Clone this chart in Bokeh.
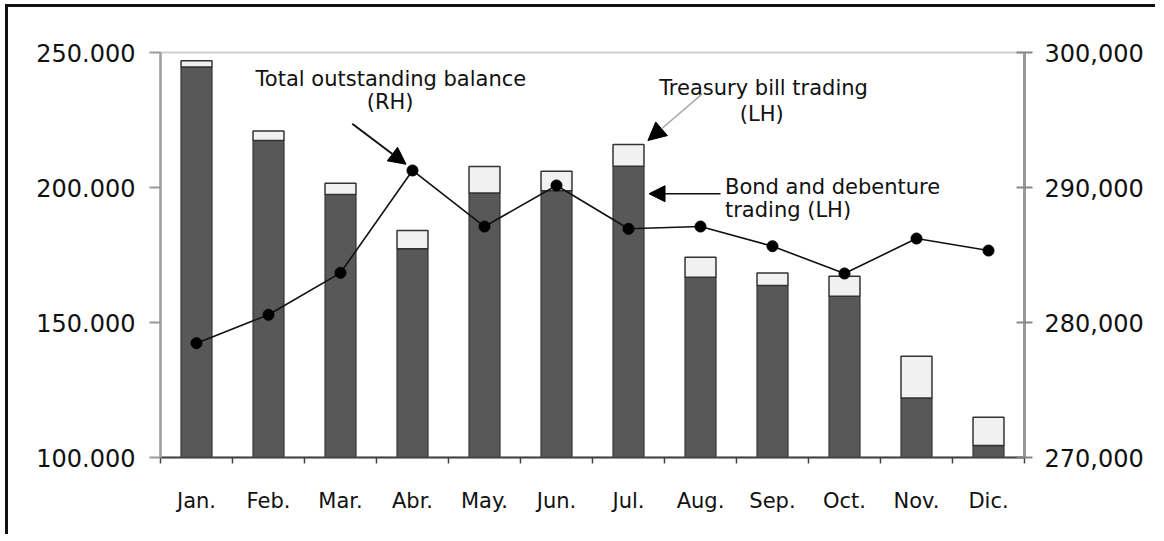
from bokeh.plotting import figure
from bokeh.models import Range1d, LinearAxis, FixedTicker, ColumnDataSource, Label, Arrow, NormalHead
from bokeh.embed import file_html
from bokeh.resources import INLINE

# ---------------- data ----------------
months = ["Jan.", "Feb.", "Mar.", "Abr.", "May.", "Jun.", "Jul.", "Aug.", "Sep.", "Oct.", "Nov.", "Dic."]
bond_trading = [244600, 217400, 197400, 177300, 198000, 198800, 207900, 166800, 163700, 159700, 122000, 104400]
treasury_trading = [2300, 3500, 4200, 6800, 9800, 7200, 8000, 7400, 4600, 7400, 15500, 10500]
total_outstanding = [278470, 280570, 283680, 291260, 287110, 290150, 286940, 287110, 285650, 283630, 286220, 285330]

left_ticks = [100000, 150000, 200000, 250000]
left_tick_labels = ["100.000", "150.000", "200.000", "250.000"]
right_ticks = [270000, 280000, 290000, 300000]
right_tick_labels = ["270,000", "280,000", "290,000", "300,000"]

FONT = "DejaVu Sans"

xpos = [i + 0.5 for i in range(len(months))]
bar_top = [b + t for b, t in zip(bond_trading, treasury_trading)]
src = ColumnDataSource(dict(x=xpos, bond=bond_trading, top=bar_top, total=total_outstanding,
                            base=[0] * len(months)))

p = figure(width=1150, height=530,
           x_range=Range1d(0, len(months)), y_range=Range1d(left_ticks[0], left_ticks[-1]),
           output_backend="svg", toolbar_location=None,
           min_border_left=152, min_border_right=134, min_border_top=45, min_border_bottom=80)
p.extra_y_ranges = {"rh": Range1d(right_ticks[0], right_ticks[-1])}
p.xgrid.visible = False
p.ygrid.visible = False
p.outline_line_color = "#cfcfcf"
p.outline_line_width = 2
p.background_fill_color = "white"
p.border_fill_color = "white"
# outer black frame (left and top edges visible in the picture)
p.styles = {"margin-left": "5px", "margin-top": "4px",
            "border-left": "3px solid #111111", "border-top": "3px solid #111111"}

# bars
p.vbar(x="x", bottom="base", top="bond", width=0.43, source=src,
       fill_color="#585858", line_color="#333333", line_width=1.2)
p.vbar(x="x", bottom="bond", top="top", width=0.43, source=src,
       fill_color="#f1f1f1", line_color="#333333", line_width=1.5)

# line (right axis)
p.line(x="x", y="total", source=src, y_range_name="rh", line_color="#111111", line_width=1.6)
p.scatter(x="x", y="total", source=src, y_range_name="rh", size=11,
          fill_color="#000000", line_color="#000000")

# bottom axis: labels at centres, ticks at category boundaries
xa = p.xaxis[0]
xa.ticker = FixedTicker(ticks=xpos, minor_ticks=list(range(len(months) + 1)))
xa.major_label_overrides = {x: m for x, m in zip(xpos, months)}
xa.major_tick_line_color = None
xa.major_tick_out = 0
xa.major_tick_in = 0
xa.minor_tick_out = 6
xa.minor_tick_in = 0
xa.minor_tick_line_color = "#444444"
xa.minor_tick_line_width = 1.5
xa.axis_line_color = "#444444"
xa.axis_line_width = 2
xa.major_label_text_font = FONT
xa.major_label_text_font_size = "21px"
xa.major_label_text_color = "#111111"
xa.major_label_standoff = 25

# left axis
ya = p.yaxis[0]
ya.ticker = FixedTicker(ticks=left_ticks)
ya.major_label_overrides = dict(zip(left_ticks, left_tick_labels))
ya.minor_tick_line_color = None
ya.major_tick_out = 11
ya.major_tick_in = 0
ya.major_tick_line_color = "#999999"
ya.major_tick_line_width = 2
ya.axis_line_color = "#a0a0a0"
ya.axis_line_width = 2.5
ya.major_label_text_font = FONT
ya.major_label_text_font_size = "24px"
ya.major_label_text_color = "#111111"
ya.major_label_standoff = 14

# right axis
ra = LinearAxis(y_range_name="rh", ticker=FixedTicker(ticks=right_ticks),
                major_label_overrides=dict(zip(right_ticks, right_tick_labels)))
ra.minor_tick_line_color = None
ra.major_tick_out = 8
ra.major_tick_in = 8
ra.major_tick_line_color = "#888888"
ra.major_tick_line_width = 2
ra.axis_line_color = "#999999"
ra.axis_line_width = 3
ra.major_label_text_font = FONT
ra.major_label_text_font_size = "24px"
ra.major_label_text_color = "#111111"
ra.major_label_standoff = 12
p.add_layout(ra, "right")

# annotations
def lab(text, x, y, align="center"):
    p.add_layout(Label(x=x, y=y, text=text, text_font=FONT, text_font_size="21px",
                       text_color="#111111", text_align=align, text_baseline="alphabetic"))

lab("Total outstanding balance", 3.20, 240300)
lab("(RH)", 3.19, 231600)
lab("Treasury bill trading", 8.375, 236900)
lab("(LH)", 8.35, 227400)
lab("Bond and debenture", 7.84, 200100, "left")
lab("trading (LH)", 7.84, 191700, "left")

p.add_layout(Arrow(x_start=2.663, y_start=223600, x_end=3.41, y_end=208600,
                   line_color="#111111", line_width=2,
                   end=NormalHead(size=17, fill_color="#000000", line_color="#000000")))
p.add_layout(Arrow(x_start=7.524, y_start=234700, x_end=6.77, y_end=217400,
                   line_color="#a8a8a8", line_width=1.5,
                   end=NormalHead(size=18, fill_color="#000000", line_color="#000000")))
p.add_layout(Arrow(x_start=7.778, y_start=197700, x_end=6.785, y_end=197700,
                   line_color="#111111", line_width=1.5,
                   end=NormalHead(size=16, fill_color="#000000", line_color="#000000")))

open("out.html", "w").write(file_html(p, INLINE))
